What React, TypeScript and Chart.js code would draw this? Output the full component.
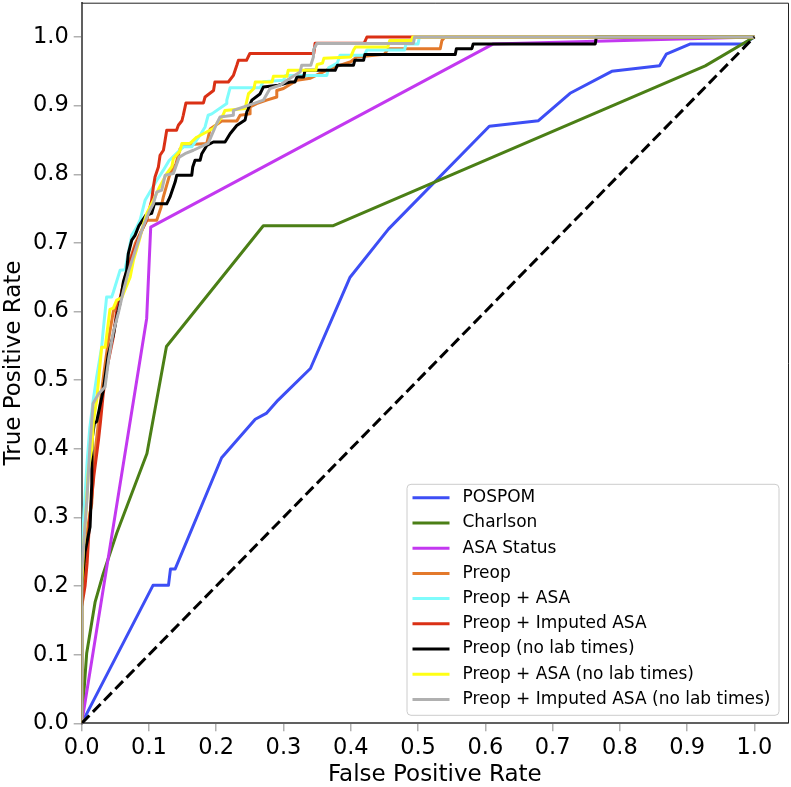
import React, { useEffect, useRef } from "react";
import { Chart, registerables } from "chart.js";

Chart.register(...registerables);

const FONT = "'DejaVu Sans', 'Liberation Sans', sans-serif";

const tickValues = [0, 0.1, 0.2, 0.3, 0.4, 0.5, 0.6, 0.7, 0.8, 0.9, 1.0];

const seriesNames = [
  "POSPOM",
  "Charlson",
  "ASA Status",
  "Preop",
  "Preop + ASA",
  "Preop + Imputed ASA",
  "Preop (no lab times)",
  "Preop + ASA (no lab times)",
  "Preop + Imputed ASA (no lab times)",
];

const seriesColors = [
  "#3d4ef5",
  "#4b7f16",
  "#c338f0",
  "#e3792b",
  "#7ffcfc",
  "#da3015",
  "#000000",
  "#ffff14",
  "#b0b0b0",
];

const pospomFpr = [0, 0.106, 0.129, 0.132, 0.139, 0.208, 0.258, 0.275, 0.292, 0.34, 0.399, 0.456, 0.606, 0.679, 0.726, 0.788, 0.859, 0.869, 0.905, 0.984, 1];
const pospomTpr = [0, 0.201, 0.201, 0.225, 0.225, 0.387, 0.443, 0.452, 0.471, 0.517, 0.65, 0.72, 0.87, 0.878, 0.918, 0.95, 0.958, 0.975, 0.99, 0.99, 1];

const charlsonFpr = [0, 0.0074, 0.02, 0.032, 0.052, 0.097, 0.126, 0.27, 0.374, 0.927, 1];
const charlsonTpr = [0, 0.102, 0.177, 0.218, 0.277, 0.393, 0.549, 0.725, 0.725, 0.958, 1];

const asaFpr = [0, 0.0966, 0.1026, 0.612, 1];
const asaTpr = [0, 0.59, 0.723, 0.99, 1];

const preopFpr = [0, 0, 0.0025, 0.008, 0.0124, 0.0149, 0.018, 0.024, 0.028, 0.033, 0.04, 0.047, 0.052, 0.057, 0.062, 0.07, 0.08, 0.09, 0.097, 0.1115, 0.118, 0.1214, 0.1313, 0.14, 0.1462, 0.155, 0.186, 0.191, 0.2082, 0.2306, 0.2355, 0.2503, 0.2503, 0.26, 0.275, 0.29, 0.29, 0.3, 0.32, 0.34, 0.369, 0.4, 0.409, 0.45, 0.456, 0.533, 0.5355, 0.54, 1];
const preopTpr = [0, 0.17, 0.2, 0.28, 0.306, 0.32, 0.38, 0.43, 0.47, 0.51, 0.56, 0.6, 0.61, 0.619, 0.641, 0.67, 0.7, 0.72, 0.733, 0.733, 0.752, 0.767, 0.801, 0.815, 0.837, 0.843, 0.845, 0.866, 0.8777, 0.8777, 0.886, 0.888, 0.898, 0.903, 0.908, 0.9126, 0.922, 0.925, 0.937, 0.94, 0.954, 0.964, 0.971, 0.975, 0.983, 0.983, 0.995, 1, 1];

const preopAsaFpr = [0, 0, 0.003, 0.008, 0.012, 0.017, 0.0223, 0.0297, 0.032, 0.037, 0.0446, 0.047, 0.057, 0.0644, 0.0744, 0.082, 0.0867, 0.0942, 0.1115, 0.1214, 0.13, 0.151, 0.1636, 0.176, 0.1834, 0.188, 0.1934, 0.2157, 0.2157, 0.2206, 0.2652, 0.27, 0.3, 0.303, 0.3644, 0.367, 0.38, 0.384, 0.42, 0.424, 0.48, 0.482, 0.5, 0.502, 1];
const preopAsaTpr = [0, 0.25, 0.3, 0.38, 0.43, 0.47, 0.505, 0.5485, 0.573, 0.621, 0.621, 0.628, 0.66, 0.661, 0.711, 0.723, 0.733, 0.762, 0.791, 0.806, 0.82, 0.84, 0.84, 0.857, 0.869, 0.886, 0.888, 0.903, 0.908, 0.926, 0.926, 0.935, 0.937, 0.944, 0.944, 0.955, 0.962, 0.9733, 0.9733, 0.981, 0.981, 0.99, 0.99, 1, 1];

const preopImpFpr = [0, 0, 0.005, 0.008, 0.012, 0.018, 0.025, 0.028, 0.032, 0.038, 0.047, 0.052, 0.06, 0.068, 0.078, 0.088, 0.097, 0.104, 0.1065, 0.109, 0.114, 0.1165, 0.1215, 0.124, 0.1264, 0.141, 0.1437, 0.149, 0.151, 0.155, 0.181, 0.1834, 0.196, 0.198, 0.218, 0.2255, 0.2306, 0.2329, 0.245, 0.25, 0.345, 0.347, 0.42, 0.424, 1];
const preopImpTpr = [0, 0.17, 0.2, 0.233, 0.3, 0.36, 0.413, 0.44, 0.48, 0.52, 0.563, 0.6, 0.63, 0.66, 0.69, 0.715, 0.735, 0.762, 0.7815, 0.796, 0.8107, 0.8277, 0.835, 0.8495, 0.864, 0.864, 0.8714, 0.878, 0.886, 0.904, 0.904, 0.9126, 0.922, 0.9345, 0.9345, 0.944, 0.9588, 0.966, 0.966, 0.976, 0.976, 0.991, 0.991, 1, 1];

const preopNoLabFpr = [0, 0, 0.005, 0.0124, 0.015, 0.0154, 0.0188, 0.0223, 0.032, 0.0396, 0.047, 0.052, 0.057, 0.0619, 0.0669, 0.0693, 0.0744, 0.0793, 0.085, 0.095, 0.104, 0.108, 0.1264, 0.1313, 0.139, 0.1413, 0.1636, 0.1651, 0.1685, 0.176, 0.1785, 0.186, 0.1958, 0.2131, 0.2206, 0.2305, 0.2429, 0.2454, 0.253, 0.265, 0.27, 0.2925, 0.31, 0.317, 0.32, 0.33, 0.332, 0.3768, 0.38, 0.404, 0.406, 0.419, 0.421, 0.5553, 0.557, 0.58, 0.582, 0.7635, 0.765, 1];
const preopNoLabTpr = [0, 0.2, 0.25, 0.286, 0.35, 0.413, 0.437, 0.44, 0.485, 0.538, 0.5655, 0.592, 0.6117, 0.643, 0.66, 0.6845, 0.704, 0.711, 0.725, 0.74, 0.743, 0.757, 0.757, 0.767, 0.789, 0.7986, 0.7986, 0.8107, 0.8204, 0.8204, 0.83, 0.842, 0.847, 0.847, 0.859, 0.871, 0.879, 0.8907, 0.908, 0.917, 0.927, 0.9297, 0.9345, 0.9345, 0.9418, 0.9418, 0.9515, 0.9515, 0.9588, 0.9588, 0.966, 0.966, 0.9744, 0.9744, 0.983, 0.983, 0.99, 0.99, 1, 1];

const preopAsaNoLabFpr = [0, 0, 0.003, 0.006, 0.01, 0.015, 0.0175, 0.0223, 0.027, 0.0297, 0.035, 0.042, 0.047, 0.052, 0.0595, 0.072, 0.077, 0.087, 0.092, 0.0967, 0.1065, 0.116, 0.1264, 0.134, 0.1363, 0.146, 0.149, 0.161, 0.171, 0.196, 0.21, 0.213, 0.243, 0.245, 0.248, 0.256, 0.258, 0.283, 0.285, 0.305, 0.307, 0.348, 0.35, 0.358, 0.36, 0.4, 0.404, 0.407, 0.455, 0.458, 0.49, 0.492, 1];
const preopAsaNoLabTpr = [0, 0.2, 0.26, 0.3, 0.37, 0.4, 0.44, 0.471, 0.52, 0.548, 0.548, 0.603, 0.605, 0.6165, 0.62, 0.65, 0.675, 0.709, 0.728, 0.743, 0.762, 0.782, 0.801, 0.811, 0.823, 0.834, 0.845, 0.845, 0.854, 0.867, 0.886, 0.893, 0.896, 0.905, 0.9176, 0.925, 0.9345, 0.9345, 0.9427, 0.9427, 0.9515, 0.9515, 0.96, 0.962, 0.969, 0.971, 0.9806, 0.9855, 0.9855, 0.995, 0.995, 1, 1];

const preopImpNoLabFpr = [0, 0, 0.0045, 0.008, 0.012, 0.0169, 0.025, 0.0347, 0.04, 0.047, 0.055, 0.062, 0.07, 0.08, 0.09, 0.1, 0.1065, 0.1115, 0.119, 0.124, 0.1363, 0.145, 0.1536, 0.166, 0.188, 0.2008, 0.2057, 0.2255, 0.2255, 0.2553, 0.27, 0.28, 0.295, 0.305, 0.3247, 0.327, 0.3406, 0.3445, 0.3445, 0.3495, 0.493, 0.495, 1];
const preopImpNoLabTpr = [0, 0.22, 0.282, 0.33, 0.4, 0.466, 0.48, 0.49, 0.53, 0.57, 0.6, 0.63, 0.66, 0.69, 0.72, 0.745, 0.757, 0.774, 0.777, 0.7985, 0.801, 0.825, 0.83, 0.835, 0.845, 0.874, 0.8835, 0.886, 0.893, 0.903, 0.908, 0.925, 0.9297, 0.937, 0.949, 0.9588, 0.9588, 0.971, 0.981, 0.9906, 0.9906, 1, 1];

const chanceFpr = [0, 1];
const chanceTpr = [0, 1];

export default function App() {
  const ref = useRef<HTMLCanvasElement>(null);

  useEffect(() => {
    document.body.style.margin = "0";
    const canvas = ref.current;
    if (!canvas) return;

    const curves: [number[], number[]][] = [
      [pospomFpr, pospomTpr],
      [charlsonFpr, charlsonTpr],
      [asaFpr, asaTpr],
      [preopFpr, preopTpr],
      [preopAsaFpr, preopAsaTpr],
      [preopImpFpr, preopImpTpr],
      [preopNoLabFpr, preopNoLabTpr],
      [preopAsaNoLabFpr, preopAsaNoLabTpr],
      [preopImpNoLabFpr, preopImpNoLabTpr],
    ];

    const datasets: any[] = curves.map(([fx, ty], i) => ({
      label: seriesNames[i],
      data: fx.map((x, j) => ({ x, y: ty[j] })),
      borderColor: seriesColors[i],
      backgroundColor: seriesColors[i],
      borderWidth: 3,
      pointRadius: 0,
      fill: false,
      tension: 0,
      borderJoinStyle: "round",
      order: 20 - i,
    }));
    datasets.push({
      label: "chance",
      data: chanceFpr.map((x, j) => ({ x, y: chanceTpr[j] })),
      borderColor: "#000000",
      borderWidth: 3,
      borderDash: [11, 5],
      pointRadius: 0,
      fill: false,
      order: 0,
    });

    const framePlugin = {
      id: "frame",
      afterDraw(chart: any) {
        const { ctx, chartArea } = chart;
        const { left, right, top, bottom } = chartArea;
        ctx.save();
        ctx.strokeStyle = "#222222";
        ctx.lineWidth = 1;
        ctx.beginPath();
        ctx.moveTo(left, top + 0.5);
        ctx.lineTo(right + 0.5, top + 0.5);
        ctx.lineTo(right + 0.5, bottom);
        ctx.stroke();

        // legend
        const boxW = 372;
        const boxH = 231;
        const bx = right - 9 - boxW;
        const by = bottom - 8 - boxH;
        const r = 4;
        ctx.beginPath();
        ctx.moveTo(bx + r, by);
        ctx.lineTo(bx + boxW - r, by);
        ctx.arcTo(bx + boxW, by, bx + boxW, by + r, r);
        ctx.lineTo(bx + boxW, by + boxH - r);
        ctx.arcTo(bx + boxW, by + boxH, bx + boxW - r, by + boxH, r);
        ctx.lineTo(bx + r, by + boxH);
        ctx.arcTo(bx, by + boxH, bx, by + boxH - r, r);
        ctx.lineTo(bx, by + r);
        ctx.arcTo(bx, by, bx + r, by, r);
        ctx.closePath();
        ctx.fillStyle = "rgba(255,255,255,0.85)";
        ctx.fill();
        ctx.strokeStyle = "#cccccc";
        ctx.lineWidth = 1;
        ctx.stroke();

        ctx.font = `17px ${FONT}`;
        ctx.textBaseline = "middle";
        ctx.textAlign = "left";
        seriesNames.forEach((name, i) => {
          const y = by + 13.5 + i * 25.2;
          ctx.strokeStyle = seriesColors[i];
          ctx.lineWidth = 3;
          ctx.beginPath();
          ctx.moveTo(bx + 5.5, y);
          ctx.lineTo(bx + 42.5, y);
          ctx.stroke();
          ctx.fillStyle = "#000000";
          ctx.fillText(name, bx + 55.5, y);
        });
        ctx.restore();
      },
    };

    const chart = new Chart(canvas, {
      type: "line",
      data: { datasets },
      options: {
        animation: false,
        responsive: false,
        devicePixelRatio: 1,
        layout: { padding: { left: 0, top: 2.7, right: 3, bottom: 0 } },
        plugins: {
          legend: { display: false },
          tooltip: { enabled: false },
        },
        scales: {
          x: {
            type: "linear",
            min: 0,
            max: 1.05,
            afterBuildTicks: (s: any) => {
              s.ticks = tickValues.map((v) => ({ value: v }));
            },
            afterFit: (s: any) => {
              s.height = 63.7;
              s.paddingLeft = 0;
              s.paddingRight = 0;
              s.paddingTop = 0;
              s.paddingBottom = 0;
            },
            grid: {
              display: true,
              drawOnChartArea: false,
              drawTicks: true,
              tickLength: 8,
              tickColor: "#b0b0b0",
              lineWidth: 1.5,
            },
            border: { display: true, color: "#606060", width: 2 },
            ticks: {
              color: "#000000",
              font: { family: FONT, size: 22.5 },
              padding: 3,
              maxRotation: 0,
              autoSkip: false,
              callback: (v: any) => Number(v).toFixed(1),
            },
            title: {
              display: true,
              text: "False Positive Rate",
              color: "#000000",
              font: { family: FONT, size: 23, lineHeight: 1.05 },
              padding: { top: 0, bottom: 0 },
            },
          },
          y: {
            type: "linear",
            min: 0,
            max: 1.05,
            afterBuildTicks: (s: any) => {
              s.ticks = tickValues.map((v) => ({ value: v }));
            },
            afterFit: (s: any) => {
              s.width = 81.7;
              s.paddingLeft = 0;
              s.paddingRight = 0;
              s.paddingTop = 0;
              s.paddingBottom = 0;
            },
            grid: {
              display: true,
              drawOnChartArea: false,
              drawTicks: true,
              tickLength: 8,
              tickColor: "#b0b0b0",
              lineWidth: 1.5,
            },
            border: { display: true, color: "#606060", width: 2 },
            ticks: {
              color: "#000000",
              font: { family: FONT, size: 22.5 },
              padding: 5,
              autoSkip: false,
              callback: (v: any) => Number(v).toFixed(1),
            },
            title: {
              display: true,
              text: "True Positive Rate",
              color: "#000000",
              font: { family: FONT, size: 23, lineHeight: 1.1 },
              padding: { top: 1, bottom: 0 },
            },
          },
        },
      } as any,
      plugins: [framePlugin],
    });

    return () => chart.destroy();
  }, []);

  return (
    <div style={{ position: "fixed", left: 0, top: 0, width: 791, height: 787, background: "#ffffff" }}>
      <canvas ref={ref} width={791} height={787} style={{ display: "block", width: 791, height: 787 }} />
    </div>
  );
}
